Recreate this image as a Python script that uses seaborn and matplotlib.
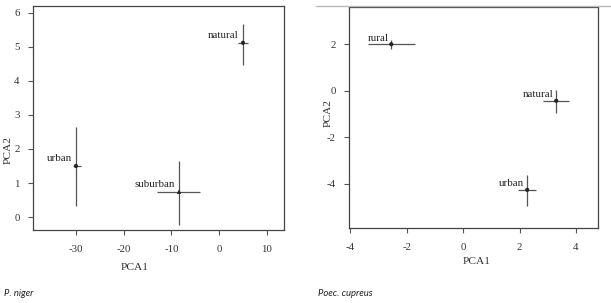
import matplotlib
matplotlib.use("Agg")
import matplotlib.pyplot as plt
import seaborn as sns
import pandas as pd
from matplotlib.lines import Line2D

sns.set_theme(style="white")
plt.rcParams['font.family'] = ['Liberation Serif', 'DejaVu Serif']

# ---- data: P. niger ----
niger_sites = ["urban", "suburban", "natural"]
niger_pca1 = [-30.0, -8.4, 5.0]
niger_pca2 = [1.50, 0.74, 5.12]
niger_x_lo = [-30.6, -13.0, 4.0]
niger_x_hi = [-29.0, -4.0, 6.1]
niger_y_lo = [0.32, -0.24, 4.47]
niger_y_hi = [2.65, 1.65, 5.68]
niger_markers = ["o", "^", "o"]

# ---- data: Poec. cupreus ----
cup_sites = ["rural", "natural", "urban"]
cup_pca1 = [-2.55, 3.30, 2.27]
cup_pca2 = [2.00, -0.43, -4.26]
cup_x_lo = [-3.36, 2.83, 1.95]
cup_x_hi = [-1.70, 3.75, 2.58]
cup_y_lo = [1.80, -0.94, -4.96]
cup_y_hi = [2.20, 0.02, -3.63]
cup_markers = ["o", "o", "o"]

niger_xticks = [-30, -20, -10, 0, 10]
niger_yticks = [0, 1, 2, 3, 4, 5, 6]
cup_xticks = [-4, -2, 0, 2, 4]
cup_yticks = [-4, -2, 0, 2]

W, H = 611, 303
fig = plt.figure(figsize=(W / 100, H / 100), dpi=100)
fig.patch.set_facecolor("white")

def box(l, t, r, b):
    return [l / W, 1 - b / H, (r - l) / W, (b - t) / H]

ax1 = fig.add_axes(box(33, 6, 284, 230))
ax2 = fig.add_axes(box(349, 7, 598, 228))

# light grey line at top of right panel
fig.add_artist(Line2D([316 / W, 1.0], [1 - 6 / H, 1 - 6 / H], color="#bbbbbb", lw=1.0,
                      transform=fig.transFigure))

ecol = "#555555"
tcol = "#333333"

def panel(ax, sites, x, y, xlo, xhi, ylo, yhi, markers, xticks, yticks, xlim, ylim,
          lab_dx, lab_dy):
    df = pd.DataFrame({"site": sites, "x": x, "y": y, "m": markers})
    ax.hlines(y, xlo, xhi, color=ecol, lw=0.9, zorder=2)
    ax.vlines(x, ylo, yhi, color=ecol, lw=0.9, zorder=2)
    sns.scatterplot(data=df, x="x", y="y", style="site",
                    markers={s: m for s, m in zip(sites, markers)},
                    color="#222222", s=6, linewidth=0.5, edgecolor="#222222",
                    legend=False, ax=ax, zorder=3)
    for s, xi, yi in zip(sites, x, y):
        ax.annotate(s, (xi, yi), xytext=(lab_dx, lab_dy), textcoords="offset points",
                    ha="right", va="bottom", fontsize=7.8, color="#222222")
    ax.set_xlim(*xlim)
    ax.set_ylim(*ylim)
    ax.set_xticks(xticks)
    ax.set_yticks(yticks)
    ax.set_xticklabels([str(v) for v in xticks])
    ax.set_yticklabels([str(v) for v in yticks])
    ax.tick_params(axis="both", direction="out", length=3.5, width=0.8, color="#555555",
                   labelsize=7.8, labelcolor=tcol, bottom=True, left=True)
    ax.tick_params(axis="x", pad=7)
    ax.tick_params(axis="y", pad=6)
    for sp in ax.spines.values():
        sp.set_visible(True)
        sp.set_color("#444444")
        sp.set_linewidth(0.9)
    ax.set_xlabel("")
    ax.set_ylabel("")
    ax.grid(False)

panel(ax1, niger_sites, niger_pca1, niger_pca2, niger_x_lo, niger_x_hi, niger_y_lo, niger_y_hi,
      niger_markers, niger_xticks, niger_yticks, (-39.0, 13.6), (-0.38, 6.2), -3, 2)
panel(ax2, cup_sites, cup_pca1, cup_pca2, cup_x_lo, cup_x_hi, cup_y_lo, cup_y_hi,
      cup_markers, cup_xticks, cup_yticks, (-4.05, 4.78), (-5.9, 3.6), -2, 1)

# axis labels
fig.text(135 / W, 1 - 267 / H, "PCA1", ha="center", va="center", fontsize=8.2, color=tcol)
fig.text(8 / W, 1 - 150 / H, "PCA2", ha="center", va="center", rotation=90, fontsize=8.2, color=tcol)
fig.text(477 / W, 1 - 262 / H, "PCA1", ha="center", va="center", fontsize=8.2, color=tcol)
fig.text(328 / W, 1 - 113 / H, "PCA2", ha="center", va="center", rotation=90, fontsize=8.2, color=tcol)

# species captions
fig.text(4 / W, 1 - 293 / H, "P. niger", ha="left", va="center", fontsize=6.8,
         style="italic", family=["Lato", "DejaVu Sans"], color="#222222")
fig.text(318 / W, 1 - 293 / H, "Poec. cupreus", ha="left", va="center", fontsize=6.8,
         style="italic", family=["Lato", "DejaVu Sans"], color="#222222")

fig.savefig("out.png", dpi=100, facecolor="white")
